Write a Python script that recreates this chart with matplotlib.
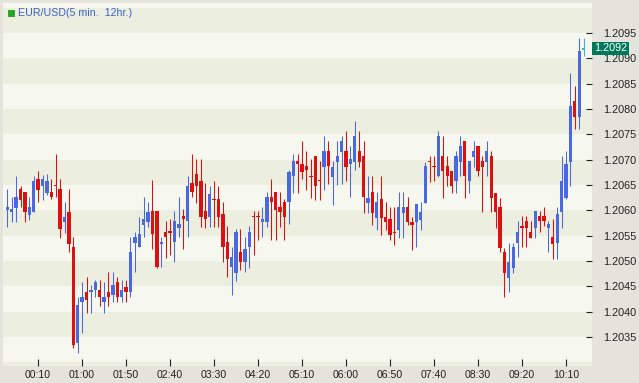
import matplotlib
matplotlib.use('Agg')
import matplotlib.pyplot as plt
from matplotlib.patches import Rectangle
import numpy as np

# EUR/USD 5-minute candles, 23:35 .. 10:30
opens = [1.20601, 1.20596, 1.20605, 1.20642, 1.20636, 1.20591, 1.20596, 1.20662, 1.20647, 1.20635,
         1.20636, 1.20649, 1.20642, 1.20576, 1.20597, 1.20528, 1.20338, 1.20418, 1.20438, 1.20438,
         1.20443, 1.20443, 1.20418, 1.20438, 1.20433, 1.20458, 1.20428, 1.20448, 1.20438, 1.20536,
         1.20527, 1.20571, 1.20576, 1.20598, 1.20598, 1.20533, 1.20558, 1.20558, 1.20537, 1.20566,
         1.20588, 1.20578, 1.20653, 1.20672, 1.20658, 1.20598, 1.20586, 1.20623, 1.20622, 1.20593,
         1.20538, 1.20488, 1.20477, 1.20517, 1.20497, 1.20527, 1.20588, 1.20588, 1.20576, 1.20576,
         1.20627, 1.20637, 1.20607, 1.20617, 1.20617, 1.20667, 1.20697, 1.20691, 1.20687, 1.20668,
         1.20707, 1.20659, 1.20685, 1.20717, 1.20666, 1.20696, 1.20716, 1.20717, 1.20691, 1.20696,
         1.20717, 1.20707, 1.20615, 1.20637, 1.20585, 1.20622, 1.20586, 1.20583, 1.20557, 1.20561,
         1.20595, 1.20607, 1.20576, 1.20576, 1.20581, 1.20615, 1.20698, 1.20688, 1.20667, 1.20708,
         1.20688, 1.20678, 1.20657, 1.20696, 1.20737, 1.20657, 1.20706, 1.20727, 1.20698, 1.20696,
         1.20708, 1.20635, 1.20606, 1.20517, 1.20467, 1.20487, 1.20536, 1.20568, 1.20578, 1.20558,
         1.20566, 1.20588, 1.20588, 1.20566, 1.20548, 1.20536, 1.20596, 1.20625, 1.20696, 1.20816,
         1.20785, 1.20917]
closes = [1.20607, 1.20603, 1.20626, 1.20621, 1.20596, 1.20606, 1.20658, 1.20640, 1.20662, 1.20658,
          1.20626, 1.20648, 1.20563, 1.20586, 1.20533, 1.20334, 1.20413, 1.20428, 1.20422, 1.20443,
          1.20458, 1.20428, 1.20428, 1.20428, 1.20453, 1.20428, 1.20443, 1.20438, 1.20517, 1.20547,
          1.20553, 1.20582, 1.20597, 1.20553, 1.20489, 1.20538, 1.20547, 1.20556, 1.20578, 1.20573,
          1.20582, 1.20648, 1.20637, 1.20648, 1.20586, 1.20582, 1.20632, 1.20620, 1.20586, 1.20527,
          1.20503, 1.20507, 1.20558, 1.20497, 1.20524, 1.20558, 1.20586, 1.20586, 1.20582, 1.20627,
          1.20616, 1.20601, 1.20596, 1.20586, 1.20676, 1.20697, 1.20691, 1.20676, 1.20680, 1.20666,
          1.20647, 1.20657, 1.20717, 1.20687, 1.20686, 1.20707, 1.20737, 1.20686, 1.20701, 1.20747,
          1.20696, 1.20626, 1.20624, 1.20595, 1.20617, 1.20585, 1.20576, 1.20551, 1.20555, 1.20607,
          1.20607, 1.20576, 1.20571, 1.20612, 1.20596, 1.20687, 1.20696, 1.20686, 1.20746, 1.20677,
          1.20667, 1.20647, 1.20708, 1.20727, 1.20667, 1.20698, 1.20717, 1.20677, 1.20686, 1.20717,
          1.20625, 1.20596, 1.20525, 1.20477, 1.20497, 1.20527, 1.20558, 1.20566, 1.20566, 1.20546,
          1.20598, 1.20578, 1.20578, 1.20573, 1.20533, 1.20592, 1.20657, 1.20691, 1.20806, 1.20785,
          1.20915, 1.20920]
highs = [1.20642, 1.20627, 1.20668, 1.20648, 1.20637, 1.20626, 1.20668, 1.20678, 1.20670, 1.20671,
         1.20661, 1.20711, 1.20661, 1.20617, 1.20642, 1.20547, 1.20428, 1.20459, 1.20469, 1.20453,
         1.20463, 1.20463, 1.20458, 1.20478, 1.20478, 1.20468, 1.20463, 1.20463, 1.20547, 1.20557,
         1.20586, 1.20626, 1.20617, 1.20659, 1.20598, 1.20548, 1.20578, 1.20583, 1.20598, 1.20627,
         1.20602, 1.20668, 1.20711, 1.20701, 1.20701, 1.20653, 1.20648, 1.20658, 1.20648, 1.20617,
         1.20568, 1.20528, 1.20563, 1.20563, 1.20548, 1.20568, 1.20598, 1.20598, 1.20607, 1.20637,
         1.20661, 1.20637, 1.20637, 1.20622, 1.20680, 1.20712, 1.20712, 1.20737, 1.20717, 1.20701,
         1.20707, 1.20697, 1.20747, 1.20737, 1.20697, 1.20737, 1.20747, 1.20757, 1.20726, 1.20776,
         1.20757, 1.20737, 1.20668, 1.20668, 1.20637, 1.20668, 1.20617, 1.20607, 1.20607, 1.20637,
         1.20637, 1.20627, 1.20586, 1.20612, 1.20617, 1.20696, 1.20707, 1.20707, 1.20757, 1.20747,
         1.20708, 1.20678, 1.20717, 1.20747, 1.20737, 1.20698, 1.20737, 1.20727, 1.20708, 1.20737,
         1.20717, 1.20635, 1.20625, 1.20525, 1.20536, 1.20536, 1.20578, 1.20588, 1.20588, 1.20578,
         1.20598, 1.20598, 1.20607, 1.20578, 1.20582, 1.20607, 1.20708, 1.20717, 1.20871, 1.20846,
         1.20940, 1.20940]
lows = [1.20567, 1.20576, 1.20576, 1.20607, 1.20576, 1.20581, 1.20596, 1.20616, 1.20621, 1.20630,
        1.20622, 1.20627, 1.20546, 1.20556, 1.20517, 1.20328, 1.20318, 1.20357, 1.20398, 1.20398,
        1.20428, 1.20412, 1.20398, 1.20412, 1.20418, 1.20418, 1.20418, 1.20418, 1.20428, 1.20478,
        1.20527, 1.20547, 1.20567, 1.20523, 1.20486, 1.20489, 1.20505, 1.20512, 1.20497, 1.20548,
        1.20523, 1.20548, 1.20627, 1.20615, 1.20567, 1.20566, 1.20567, 1.20567, 1.20567, 1.20497,
        1.20468, 1.20432, 1.20461, 1.20482, 1.20478, 1.20487, 1.20512, 1.20542, 1.20548, 1.20567,
        1.20542, 1.20542, 1.20567, 1.20542, 1.20573, 1.20635, 1.20635, 1.20661, 1.20641, 1.20625,
        1.20620, 1.20620, 1.20640, 1.20652, 1.20610, 1.20650, 1.20652, 1.20657, 1.20626, 1.20680,
        1.20686, 1.20595, 1.20595, 1.20571, 1.20561, 1.20551, 1.20561, 1.20541, 1.20532, 1.20546,
        1.20546, 1.20571, 1.20522, 1.20527, 1.20561, 1.20615, 1.20655, 1.20657, 1.20666, 1.20625,
        1.20648, 1.20635, 1.20635, 1.20667, 1.20625, 1.20635, 1.20686, 1.20667, 1.20596, 1.20667,
        1.20596, 1.20566, 1.20517, 1.20428, 1.20438, 1.20477, 1.20507, 1.20527, 1.20527, 1.20546,
        1.20546, 1.20558, 1.20568, 1.20517, 1.20504, 1.20504, 1.20566, 1.20622, 1.20647, 1.20760,
        1.20760, 1.20905]

tick_labels = ['00:10', '01:00', '01:50', '02:40', '03:30', '04:20', '05:10',
               '06:00', '06:50', '07:40', '08:30', '09:20', '10:10']
tick_index = [7 + 10 * i for i in range(len(tick_labels))]
price_ticks = [1.2035, 1.2040, 1.2045, 1.2050, 1.2055, 1.2060, 1.2065,
               1.2070, 1.2075, 1.2080, 1.2085, 1.2090, 1.2095]
last_price = 1.2092

UP = '#4a68e0'
DOWN = '#dd1010'
LAST = '#30b8d0'
BG = '#e4e4dc'
BAND_LIGHT = '#f6f7ee'
BAND_DARK = '#eceedf'

fig = plt.figure(figsize=(6.39, 3.83), dpi=100, facecolor=BG)
ax = fig.add_axes([3 / 639, 17 / 383, 589 / 639, 363 / 383])
ax.set_facecolor(BAND_LIGHT)

# alternating horizontal bands every 0.0005
edges = np.arange(1.2020, 1.2110, 0.0005)
for k, lo in enumerate(edges):
    color = BAND_DARK if k % 2 == 1 else BAND_LIGHT
    ax.axhspan(lo, lo + 0.0005, color=color, lw=0, zorder=0)

n = len(opens)
x = np.arange(n)
colors = []
for i in range(n):
    if i == n - 1:
        colors.append(LAST)
    elif closes[i] > opens[i]:
        colors.append(UP)
    else:
        colors.append(DOWN)

o = np.array(opens)
c = np.array(closes)
body_lo = np.minimum(o, c)
body_h = np.maximum(np.abs(c - o), 0.000022)

ax.vlines(x, lows, highs, colors=colors, linewidth=0.75, zorder=2)
ax.bar(x, body_h, bottom=body_lo, width=0.74, color=colors, linewidth=0, zorder=3)

ax.set_xlim(-0.98, 132.9)
ax.set_ylim(1.202926, 1.210092)

for s in ax.spines.values():
    s.set_visible(False)

ax.yaxis.tick_right()
ax.set_yticks(price_ticks)
ax.set_yticklabels([f'{p:.4f}' for p in price_ticks])
ax.set_xticks(tick_index)
ax.set_xticklabels(tick_labels)
ax.tick_params(axis='y', direction='in', length=4, width=0.8, pad=8,
               labelsize=7.8, colors='#222222')
ax.tick_params(axis='x', direction='in', length=5, width=0.8, pad=3,
               labelsize=7.6, colors='#222222')
for lbl in ax.get_xticklabels() + ax.get_yticklabels():
    lbl.set_family(['Liberation Sans', 'DejaVu Sans'])

# current price box
ax.text(1.003, last_price, f'{last_price:.4f}', transform=ax.get_yaxis_transform(),
        ha='left', va='center', fontsize=7.8, color='white',
        family=['Liberation Sans', 'DejaVu Sans'],
        bbox=dict(boxstyle='square,pad=0.15', fc='#00785a', ec='none'), zorder=5,
        clip_on=False)

# title with green marker
fig.patches.append(Rectangle((8 / 639, 1 - 16 / 383), 6 / 639, 6 / 383,
                             transform=fig.transFigure, fc='#22aa22', ec='#118811', lw=0.5))
fig.text(18 / 639, 1 - 13 / 383, 'EUR/USD(5 min.  12hr.)', fontsize=7.7, color='#3a5fcd',
         va='center', ha='left', family=['Liberation Sans', 'DejaVu Sans'])

fig.savefig('out.png', dpi=100, facecolor=BG)
